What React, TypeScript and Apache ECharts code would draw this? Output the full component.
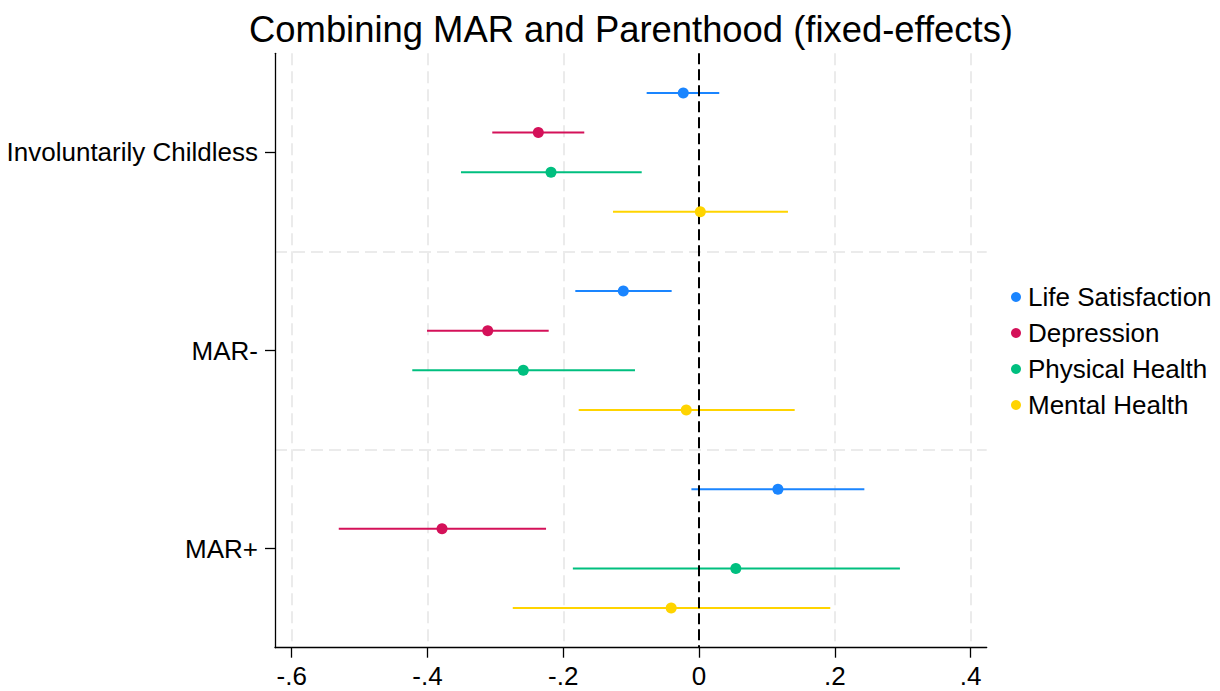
import React, { useEffect, useRef } from "react";
import * as echarts from "echarts";

const categories = ["Involuntarily Childless", "MAR-", "MAR+"];
const seriesNames = ["Life Satisfaction", "Depression", "Physical Health", "Mental Health"];

const lifeSatEst = [-0.0233, -0.1116, 0.1161];
const lifeSatLo = [-0.0772, -0.1823, -0.0113];
const lifeSatHi = [0.0297, -0.0404, 0.2434];

const depressionEst = [-0.2368, -0.3113, -0.3786];
const depressionLo = [-0.3046, -0.4007, -0.5307];
const depressionHi = [-0.1691, -0.2215, -0.2254];

const physicalEst = [-0.2181, -0.2589, 0.0541];
const physicalLo = [-0.3507, -0.4224, -0.1859];
const physicalHi = [-0.0845, -0.0944, 0.2958];

const mentalEst = [0.0018, -0.0189, -0.0411];
const mentalLo = [-0.1268, -0.1773, -0.2744];
const mentalHi = [0.1309, 0.1408, 0.1932];

const xTicks = [-0.6, -0.4, -0.2, 0, 0.2, 0.4];
const gridXValues = [-0.6, -0.4, -0.2, 0.2, 0.4];

const colors = ["#1a85ff", "#d41159", "#00bf7f", "#ffd400"];
const FONT = "'Liberation Sans', Arial, sans-serif";

export default function App() {
  const ref = useRef<HTMLDivElement>(null);

  useEffect(() => {
    if (!ref.current) return;
    const chart = echarts.init(ref.current, null, { renderer: "svg" });

    const est = [lifeSatEst, depressionEst, physicalEst, mentalEst];
    const lo = [lifeSatLo, depressionLo, physicalLo, mentalLo];
    const hi = [lifeSatHi, depressionHi, physicalHi, mentalHi];
    const dodge = [-0.3, -0.1, 0.1, 0.3];

    const series: any[] = [];
    seriesNames.forEach((name, k) => {
      const color = colors[k];
      series.push({
        type: "custom",
        yAxisIndex: 1,
        z: 2,
        silent: true,
        encode: { x: [0, 1], y: 2 },
        data: categories.map((_, i) => [lo[k][i], hi[k][i], i + 0.5 + dodge[k]]),
        renderItem: (params: any, api: any) => {
          const a = api.coord([api.value(0), api.value(2)]);
          const b = api.coord([api.value(1), api.value(2)]);
          return {
            type: "line",
            shape: { x1: a[0], y1: a[1], x2: b[0], y2: b[1] },
            style: { stroke: color, lineWidth: 2 },
          };
        },
      });
    });
    seriesNames.forEach((name, k) => {
      const s: any = {
        type: "scatter",
        name,
        yAxisIndex: 1,
        z: 4,
        symbol: "circle",
        symbolSize: 11,
        itemStyle: { color: colors[k], opacity: 1 },
        data: categories.map((_, i) => [est[k][i], i + 0.5 + dodge[k]]),
      };
      if (k === 0) {
        s.markLine = {
          silent: true,
          z: 1,
          symbol: ["none", "none"],
          label: { show: false },
          lineStyle: { color: "#ebebeb", width: 2, type: [12, 6] },
          data: [
            ...gridXValues.map((v) => ({ xAxis: v })),
            { yAxis: 1 },
            { yAxis: 2 },
          ],
        };
      }
      if (k === 1) {
        s.markLine = {
          silent: true,
          z: 3,
          symbol: ["none", "none"],
          label: { show: false },
          lineStyle: { color: "#000", width: 2, type: [11, 5] },
          data: [{ xAxis: 0 }],
        };
      }
      series.push(s);
    });

    chart.setOption({
      animation: false,
      textStyle: { fontFamily: FONT },
      graphic: [
        {
          type: "text",
          x: 631,
          y: 29,
          style: {
            text: "Combining MAR and Parenthood (fixed-effects)",
            fontSize: 36.4,
            fontFamily: FONT,
            fill: "#000",
            align: "center",
            verticalAlign: "middle",
          },
        },
      ],
      legend: {
        data: seriesNames,
        orient: "vertical",
        left: 1006,
        top: 279,
        icon: "circle",
        itemWidth: 10,
        itemHeight: 10,
        itemGap: 10,
        textStyle: {
          fontSize: 26,
          lineHeight: 26,
          color: "#000",
          fontFamily: FONT,
          padding: [0, 0, 0, 2],
        },
      },
      grid: {
        left: 275,
        right: 233.3,
        top: 53.3,
        bottom: 43.3,
        containLabel: false,
        outerBoundsMode: "none",
      },
      xAxis: {
        type: "value",
        z: 6,
        min: -0.6246,
        max: 0.4236,
        axisLine: { show: true, onZero: false, lineStyle: { color: "#000", width: 1.3 } },
        axisTick: {
          show: true,
          length: 10,
          customValues: xTicks,
          lineStyle: { color: "#000", width: 1.3 },
        },
        axisLabel: {
          customValues: xTicks,
          fontSize: 26,
          lineHeight: 26,
          color: "#000",
          fontFamily: FONT,
          margin: 15,
          formatter: (v: number) => (v === 0 ? "0" : String(v).replace("0.", ".")),
        },
        splitLine: { show: false },
      },
      yAxis: [
        {
          type: "category",
          z: 6,
          data: categories,
          inverse: true,
          axisLine: { show: true, onZero: false, lineStyle: { color: "#000", width: 1.3 } },
          axisTick: { show: true, alignWithLabel: true, length: 10, lineStyle: { color: "#000", width: 1.3 } },
          axisLabel: { fontSize: 26, color: "#000", fontFamily: FONT, margin: 17 },
          splitLine: { show: false },
        },
        {
          type: "value",
          min: 0,
          max: 3,
          inverse: true,
          show: false,
          splitLine: { show: false },
        },
      ],
      series,
    });

    return () => chart.dispose();
  }, []);

  return (
    <div
      ref={ref}
      style={{ position: "fixed", left: 0, top: 0, width: 1220, height: 691, background: "#fff" }}
    />
  );
}
